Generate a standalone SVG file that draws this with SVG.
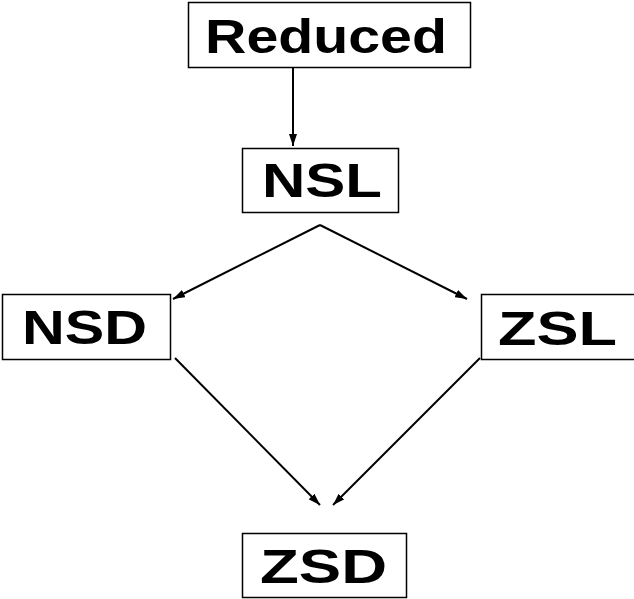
<svg xmlns="http://www.w3.org/2000/svg" width="634" height="599" viewBox="0 0 634 599">
  <style>
    .box { fill: #fff; stroke: #000; stroke-width: 1.5; }
    .lbl { font-family: "Liberation Sans", Arial, sans-serif; font-weight: bold; font-size: 48px; fill: #000; }
    .edge { fill: none; stroke: #000; stroke-width: 2; marker-end: url(#head); }
  </style>
  <defs>
    <marker id="head" viewBox="0 0 12 8" refX="12" refY="4" markerWidth="12" markerHeight="8" markerUnits="userSpaceOnUse" orient="auto">
      <path d="M0,0 L12,4 L0,8 Z" fill="#000"/>
    </marker>
  </defs>
  <rect width="634" height="599" fill="#fff"/>

  <g id="connectors">
    <line class="edge" x1="293" y1="67" x2="293" y2="146"/>
    <line class="edge" x1="320" y1="225" x2="173" y2="299"/>
    <line class="edge" x1="320" y1="225" x2="467" y2="299"/>
    <line class="edge" x1="175" y1="358" x2="320" y2="505"/>
    <line class="edge" x1="480" y1="358" x2="333" y2="505"/>
  </g>

  <g id="reduced">
    <rect class="box" x="188.5" y="2.5" width="282" height="65"/>
    <text class="lbl" x="326" y="53" text-anchor="middle" textLength="242" lengthAdjust="spacingAndGlyphs">Reduced</text>
  </g>
  <g id="nsl">
    <rect class="box" x="242.5" y="148.5" width="156" height="64"/>
    <text class="lbl" x="322" y="197" text-anchor="middle" textLength="120" lengthAdjust="spacingAndGlyphs">NSL</text>
  </g>
  <g id="nsd">
    <rect class="box" x="2.5" y="294.5" width="168" height="65"/>
    <text class="lbl" x="84.5" y="344" text-anchor="middle" textLength="125" lengthAdjust="spacingAndGlyphs">NSD</text>
  </g>
  <g id="zsl">
    <rect class="box" x="481.5" y="294.5" width="160" height="65"/>
    <text class="lbl" x="557.5" y="345" text-anchor="middle" textLength="119" lengthAdjust="spacingAndGlyphs">ZSL</text>
  </g>
  <g id="zsd">
    <rect class="box" x="242.5" y="533.5" width="164" height="64"/>
    <text class="lbl" x="323.5" y="583" text-anchor="middle" textLength="127" lengthAdjust="spacingAndGlyphs">ZSD</text>
  </g>
</svg>
